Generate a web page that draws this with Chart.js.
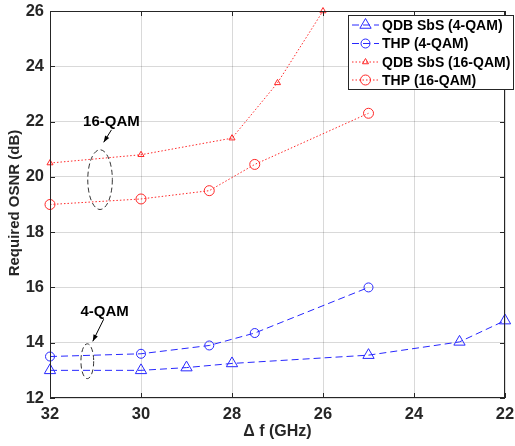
<!DOCTYPE html>
<html><head><meta charset="utf-8">
<script src="https://cdn.jsdelivr.net/npm/chart.js@4/dist/chart.umd.min.js"></script>
<style>html,body{margin:0;padding:0;background:#fff}#wrap{width:515px;height:446px}</style>
</head><body><div id="wrap"><canvas id="c" width="515" height="446"></canvas></div>
<script>
// Data
const qdb4X = [32, 30, 29, 28, 25, 23, 22];
const qdb4Y = [13.0, 13.0, 13.1, 13.25, 13.55, 14.03, 14.8];
const thp4X = [32, 30, 28.5, 27.5, 25];
const thp4Y = [13.5, 13.6, 13.9, 14.35, 16.0];
const qdb16X = [32, 30, 28, 27, 26];
const qdb16Y = [20.5, 20.8, 21.4, 23.4, 26.0];
const thp16X = [32, 30, 28.5, 27.5, 25];
const thp16Y = [19.0, 19.2, 19.5, 20.45, 22.3];
const seriesNames = ['QDB SbS (4-QAM)', 'THP (4-QAM)', 'QDB SbS (16-QAM)', 'THP (16-QAM)'];
const xTicks = [32, 30, 28, 26, 24, 22];
const yTicks = [12, 14, 16, 18, 20, 22, 24, 26];

const pts = (xs, ys) => xs.map((x, i) => ({x, y: ys[i]}));
const BLUE = 'rgb(40,40,255)', RED = 'rgb(255,40,40)';
const FONT = '"Liberation Sans", Arial, sans-serif';

const datasets = [
  {label: seriesNames[0], data: pts(qdb4X, qdb4Y), borderColor: BLUE, borderWidth: 1, borderDash: [7, 4],
   pointStyle: 'triangle', pointRadius: 6.5, pointBorderColor: BLUE, pointBackgroundColor: 'rgba(0,0,0,0)', pointBorderWidth: 1, clip: false},
  {label: seriesNames[1], data: pts(thp4X, thp4Y), borderColor: BLUE, borderWidth: 1, borderDash: [7, 4],
   pointStyle: 'circle', pointRadius: 4.5, pointBorderColor: BLUE, pointBackgroundColor: 'rgba(0,0,0,0)', pointBorderWidth: 1, clip: false},
  {label: seriesNames[2], data: pts(qdb16X, qdb16Y), borderColor: RED, borderWidth: 1, borderDash: [1.5, 2],
   pointStyle: 'triangle', pointRadius: 3.5, pointBorderColor: RED, pointBackgroundColor: 'rgba(0,0,0,0)', pointBorderWidth: 1, clip: false},
  {label: seriesNames[3], data: pts(thp16X, thp16Y), borderColor: RED, borderWidth: 1, borderDash: [1.5, 2],
   pointStyle: 'circle', pointRadius: 5, pointBorderColor: RED, pointBackgroundColor: 'rgba(0,0,0,0)', pointBorderWidth: 1, clip: false}
];

const annotations = [
  {text: '16-QAM', cx: 30.9, cy: 19.9, rxGHz: 0.27, ryDb: 1.08, labelX: 30.65, labelY: 22.0, arrFrom: [30.65, 21.7], arrTo: [30.82, 21.25]},
  {text: '4-QAM', cx: 31.18, cy: 13.33, rxGHz: 0.14, ryDb: 0.63, labelX: 30.8, labelY: 15.1, arrFrom: [30.82, 14.85], arrTo: [31.06, 14.05]}
];

const decor = {
  id: 'decor',
  afterDraw(chart) {
    const {ctx, chartArea: a, scales: {x, y}} = chart;
    ctx.save();
    ctx.strokeStyle = '#262626'; ctx.lineWidth = 1;
    ctx.strokeRect(a.left + 0.5, a.top + 0.5, a.right - a.left - 1, a.bottom - a.top - 1);
    ctx.beginPath();
    xTicks.forEach(v => { const px = Math.round(x.getPixelForValue(v)) + 0.5;
      ctx.moveTo(px, a.bottom); ctx.lineTo(px, a.bottom - 5); ctx.moveTo(px, a.top); ctx.lineTo(px, a.top + 5); });
    yTicks.forEach(v => { const py = Math.round(y.getPixelForValue(v)) + 0.5;
      ctx.moveTo(a.left, py); ctx.lineTo(a.left + 5, py); ctx.moveTo(a.right, py); ctx.lineTo(a.right - 5, py); });
    ctx.stroke();
    annotations.forEach(an => {
      const cx = x.getPixelForValue(an.cx), cy = y.getPixelForValue(an.cy);
      const rx = Math.abs(x.getPixelForValue(an.cx + an.rxGHz) - cx);
      const ry = Math.abs(y.getPixelForValue(an.cy + an.ryDb) - cy);
      ctx.strokeStyle = '#333'; ctx.lineWidth = 1; ctx.setLineDash([5, 3]);
      ctx.beginPath(); ctx.ellipse(cx, cy, rx, ry, 0, 0, Math.PI * 2); ctx.stroke();
      ctx.setLineDash([]);
      const x1 = x.getPixelForValue(an.arrFrom[0]), y1 = y.getPixelForValue(an.arrFrom[1]);
      const x2 = x.getPixelForValue(an.arrTo[0]), y2 = y.getPixelForValue(an.arrTo[1]);
      ctx.strokeStyle = '#000';
      ctx.beginPath(); ctx.moveTo(x1, y1); ctx.lineTo(x2, y2); ctx.stroke();
      const ang = Math.atan2(y2 - y1, x2 - x1), L = 7;
      ctx.fillStyle = '#000';
      ctx.beginPath(); ctx.moveTo(x2, y2);
      ctx.lineTo(x2 - L * Math.cos(ang - 0.35), y2 - L * Math.sin(ang - 0.35));
      ctx.lineTo(x2 - L * Math.cos(ang + 0.35), y2 - L * Math.sin(ang + 0.35));
      ctx.closePath(); ctx.fill();
      ctx.font = 'bold 15px ' + FONT; ctx.textAlign = 'center'; ctx.textBaseline = 'middle';
      ctx.fillText(an.text, x.getPixelForValue(an.labelX), y.getPixelForValue(an.labelY));
    });
    ctx.fillStyle = '#262626';
    ctx.font = 'bold 16px ' + FONT; ctx.textAlign = 'center'; ctx.textBaseline = 'middle';
    ctx.fillText('\u0394 f (GHz)', 277.5, 432);
    ctx.save(); ctx.translate(15, 203); ctx.rotate(-Math.PI / 2);
    ctx.font = 'bold 15px ' + FONT; ctx.fillText('Required OSNR (dB)', 0, 0); ctx.restore();
    const lx = 348, ly = 15, lw = 166, lh = 75;
    ctx.fillStyle = '#fff'; ctx.fillRect(lx, ly, lw, lh);
    ctx.strokeStyle = '#262626'; ctx.lineWidth = 1; ctx.strokeRect(lx + 0.5, ly + 0.5, lw - 1, lh - 1);
    const rows = [25, 43.5, 62, 80];
    chart.data.datasets.forEach((ds, i) => {
      const ry = rows[i];
      ctx.strokeStyle = ds.borderColor; ctx.setLineDash(ds.borderDash); ctx.lineWidth = 1;
      ctx.beginPath(); ctx.moveTo(352, ry); ctx.lineTo(379, ry); ctx.stroke(); ctx.setLineDash([]);
      ctx.fillStyle = 'rgba(0,0,0,0)'; ctx.strokeStyle = ds.pointBorderColor; ctx.lineWidth = 1;
      Chart.helpers.drawPoint(ctx, {pointStyle: ds.pointStyle, radius: ds.pointRadius, borderWidth: 1}, 365.5, ry);
      ctx.fillStyle = '#000'; ctx.font = 'bold 14px ' + FONT; ctx.textAlign = 'left'; ctx.textBaseline = 'middle';
      ctx.fillText(ds.label, 382, ry + 1);
    });
    ctx.restore();
  }
};

new Chart(document.getElementById('c'), {
  type: 'line',
  data: {datasets},
  options: {
    responsive: false, animation: false, devicePixelRatio: 1,
    layout: {padding: {top: 11, right: 10, left: 0, bottom: 0}},
    plugins: {legend: {display: false}, tooltip: {enabled: false}},
    scales: {
      x: {type: 'linear', reverse: true, min: 22, max: 32,
        afterFit: s => { s.height = 48; s.paddingLeft = 0; s.paddingRight = 0; },
        afterBuildTicks: s => { s.ticks = xTicks.map(v => ({value: v})); },
        grid: {color: 'rgba(0,0,0,0.15)', drawTicks: false},
        border: {display: false},
        ticks: {padding: 7, color: '#262626', font: {family: FONT, size: 16.5, weight: 'bold'}, maxRotation: 0}},
      y: {type: 'linear', min: 12, max: 26,
        afterFit: s => { s.width = 50; s.paddingTop = 0; s.paddingBottom = 0; },
        afterBuildTicks: s => { s.ticks = yTicks.map(v => ({value: v})); },
        grid: {color: 'rgba(0,0,0,0.15)', drawTicks: false},
        border: {display: false},
        ticks: {padding: 6, color: '#262626', font: {family: FONT, size: 16.5, weight: 'bold'}}}
    }
  },
  plugins: [decor]
});
</script></body></html>
